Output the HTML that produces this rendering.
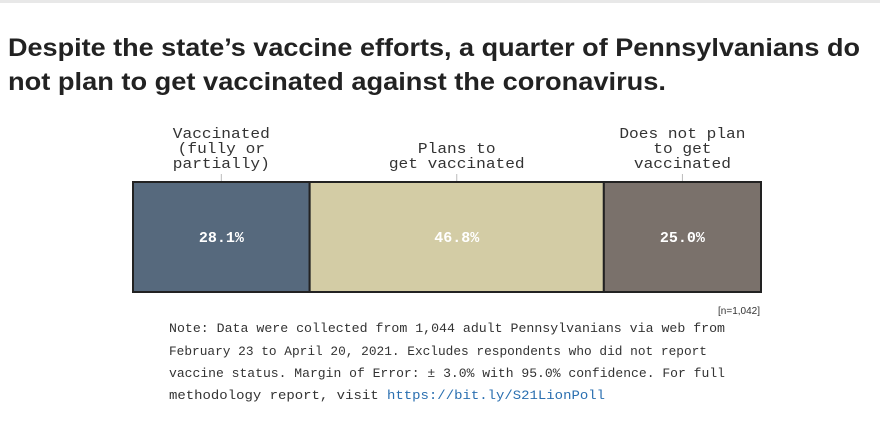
<!DOCTYPE html>
<html><head><meta charset="utf-8"><style>
body{margin:0;background:#fff;width:880px;height:426px;overflow:hidden}
</style></head><body>
<svg width="880" height="426" xmlns="http://www.w3.org/2000/svg">
<rect x="0" y="0" width="880" height="3" fill="#e8e8e8"/>
<g font-family="Liberation Sans, sans-serif" font-weight="bold" font-size="25" fill="#222">
<text x="8" y="56" textLength="852" lengthAdjust="spacingAndGlyphs">Despite the state’s vaccine efforts, a quarter of Pennsylvanians do</text>
<text x="8" y="90" textLength="658" lengthAdjust="spacingAndGlyphs">not plan to get vaccinated against the coronavirus.</text>
</g>
<g id="bars"></g>
<text x="760" y="314" text-anchor="end" font-family="Liberation Sans, sans-serif" font-size="10" fill="#333">[n=1,042]</text>
<g font-family="Liberation Mono, monospace" font-size="13" fill="#333">
<text x="169" y="332" textLength="556" lengthAdjust="spacingAndGlyphs">Note: Data were collected from 1,044 adult Pennsylvanians via web from</text>
<text x="169" y="355" textLength="538" lengthAdjust="spacingAndGlyphs">February 23 to April 20, 2021. Excludes respondents who did not report</text>
<text x="169" y="377" textLength="556" lengthAdjust="spacingAndGlyphs">vaccine status. Margin of Error: ± 3.0% with 95.0% confidence. For full</text>
<text x="169" y="399" textLength="436" lengthAdjust="spacingAndGlyphs">methodology report, visit <tspan fill="#2a6fb0">https://bit.ly/S21LionPoll</tspan></text>
</g>
</svg>
<script>
const categories = ["Vaccinated|(fully or|partially)", "Plans to|get vaccinated", "Does not plan|to get|vaccinated"];
const values = [28.1, 46.8, 25.0];
const valueLabels = ["28.1%", "46.8%", "25.0%"];
const colors = ["#56697d", "#d3cca5", "#7a716b"];
const NS = "http://www.w3.org/2000/svg";
const g = document.getElementById("bars");
const x0 = 133, x1 = 761, yTop = 182, yBot = 292;
const total = values.reduce((a,b)=>a+b,0);
const xScale = v => (v/total)*(x1-x0);
let cx = x0;
values.forEach((v,i)=>{
  const w = xScale(v);
  const r = document.createElementNS(NS,"rect");
  
  
  r.setAttribute("x",cx);r.setAttribute("y",yTop);r.setAttribute("width",w);r.setAttribute("height",yBot-yTop);
  r.setAttribute("fill",colors[i]);r.setAttribute("stroke","#222");r.setAttribute("stroke-width","2");
  g.appendChild(r);
  const mid = cx + w/2;
  const t = document.createElementNS(NS,"text");
  
  
  t.setAttribute("x",mid);t.setAttribute("y",242);t.setAttribute("text-anchor","middle");
  t.setAttribute("font-family","Liberation Mono, monospace");t.setAttribute("font-weight","bold");
  t.setAttribute("font-size","15");t.setAttribute("fill","#fff");
  t.textContent = valueLabels[i];
  g.appendChild(t);
  const tk = document.createElementNS(NS,"line");
  
  
  tk.setAttribute("x1",mid);tk.setAttribute("x2",mid);tk.setAttribute("y1",174);tk.setAttribute("y2",181);
  tk.setAttribute("stroke","#bbb");tk.setAttribute("stroke-width","1");
  g.appendChild(tk);
  const lines = categories[i].split("|");
  lines.forEach((ln,j)=>{
    const lt = document.createElementNS(NS,"text");
    
    
    lt.setAttribute("x",mid);
    lt.setAttribute("y",168 - (lines.length-1-j)*15);
    lt.setAttribute("text-anchor","middle");
    lt.setAttribute("font-family","Liberation Mono, monospace");
    lt.setAttribute("font-size","15");lt.setAttribute("fill","#333");
    lt.setAttribute("textLength", ln.length*9.7);
    lt.setAttribute("lengthAdjust","spacingAndGlyphs");
    lt.textContent = ln;
    g.appendChild(lt);
  });
  cx += w;
});
</script>
</body></html>
